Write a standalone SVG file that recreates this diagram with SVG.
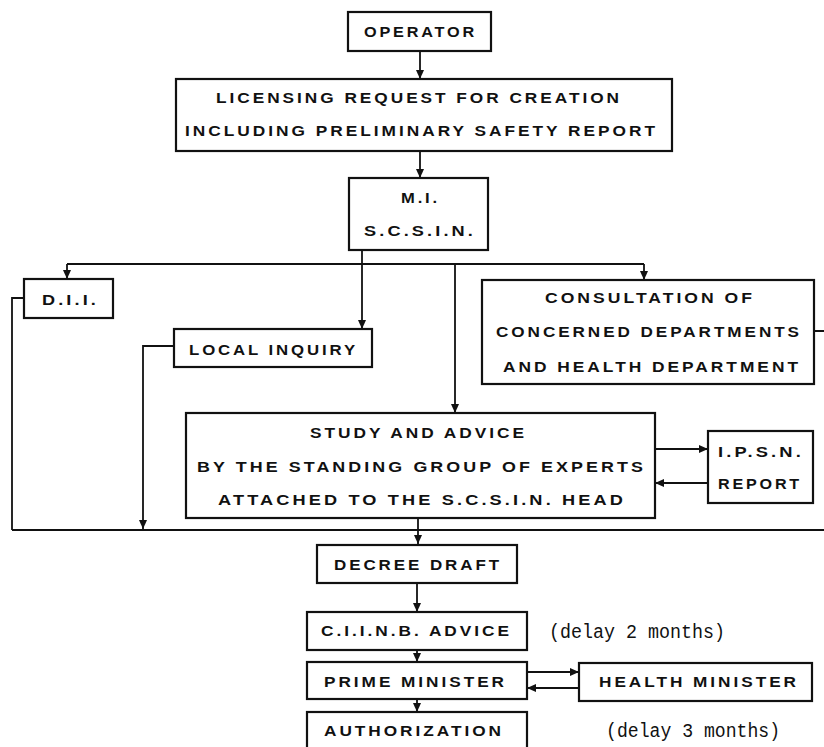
<svg xmlns="http://www.w3.org/2000/svg" width="824" height="747" viewBox="0 0 824 747">
<defs>
<marker id="ah" markerUnits="userSpaceOnUse" markerWidth="9" markerHeight="9" viewBox="0 0 9 9" refX="9" refY="4.5" orient="auto">
<path d="M0,0.5 L9,4.5 L0,8.5 Z" fill="#111"/>
</marker>
</defs>
<style>
.box{fill:#fff;stroke:#111;stroke-width:2.2}
.t{font-family:"Liberation Sans",Arial,sans-serif;font-weight:bold;font-size:14.5px;letter-spacing:2.5px;fill:#111;text-anchor:start}
.d{font-family:"Liberation Mono","DejaVu Sans Mono",monospace;font-size:20px;fill:#111}
.c{fill:none;stroke:#111;stroke-width:1.8}
.ca{fill:none;stroke:#111;stroke-width:1.8;marker-end:url(#ah)}
</style>
<rect width="824" height="747" fill="#fff"/>
<g id="connectors">
<line class="ca" x1="420" y1="51" x2="420" y2="79"/>
<line class="ca" x1="420" y1="151" x2="420" y2="178"/>
<line class="ca" x1="362" y1="250" x2="362" y2="329"/>
<path class="c" d="M67,264 H644"/>
<line class="ca" x1="67" y1="264" x2="67" y2="279"/>
<line class="ca" x1="644" y1="264" x2="644" y2="280"/>
<line class="ca" x1="455" y1="264" x2="455" y2="413"/>
<path class="c" d="M24,298 H12 V530"/>
<path class="ca" d="M174,346 H143 V529"/>
<path class="c" d="M814,331 H830 V530"/>
<path class="c" d="M12,530 H830"/>
<line class="ca" x1="418" y1="518" x2="418" y2="544"/>
<line class="ca" x1="655" y1="449" x2="708" y2="449"/>
<line class="ca" x1="708" y1="483" x2="655" y2="483"/>
<line class="ca" x1="417" y1="583" x2="417" y2="612"/>
<line class="ca" x1="417" y1="650" x2="417" y2="662"/>
<line class="ca" x1="417" y1="699" x2="417" y2="712"/>
<line class="ca" x1="527" y1="672" x2="579" y2="672"/>
<line class="ca" x1="579" y1="688" x2="527" y2="688"/>
</g>
<g id="operator">
<rect class="box" x="348" y="12" width="143" height="39"/>
<text class="t" x="364" y="36.5" textLength="113" lengthAdjust="spacingAndGlyphs">OPERATOR</text>
</g>
<g id="licensing">
<rect class="box" x="176" y="79" width="496" height="72"/>
<text class="t" x="216" y="102.5" textLength="406" lengthAdjust="spacingAndGlyphs">LICENSING REQUEST FOR CREATION</text>
<text class="t" x="185" y="135.5" textLength="473" lengthAdjust="spacingAndGlyphs">INCLUDING PRELIMINARY SAFETY REPORT</text>
</g>
<g id="mi">
<rect class="box" x="349" y="178" width="139" height="72"/>
<text class="t" x="401" y="202.5" textLength="39" lengthAdjust="spacingAndGlyphs">M.I.</text>
<text class="t" x="364" y="235.5" textLength="112" lengthAdjust="spacingAndGlyphs">S.C.S.I.N.</text>
</g>
<g id="dii">
<rect class="box" x="24" y="279" width="89" height="39"/>
<text class="t" x="42" y="304.5" textLength="57" lengthAdjust="spacingAndGlyphs">D.I.I.</text>
</g>
<g id="local-inquiry">
<rect class="box" x="174" y="329" width="198" height="38"/>
<text class="t" x="189" y="354.5" textLength="169" lengthAdjust="spacingAndGlyphs">LOCAL INQUIRY</text>
</g>
<g id="consultation">
<rect class="box" x="482" y="280" width="332" height="104"/>
<text class="t" x="545" y="302.5" textLength="210" lengthAdjust="spacingAndGlyphs">CONSULTATION OF</text>
<text class="t" x="496" y="336.5" textLength="306" lengthAdjust="spacingAndGlyphs">CONCERNED DEPARTMENTS</text>
<text class="t" x="503" y="371.5" textLength="298" lengthAdjust="spacingAndGlyphs">AND HEALTH DEPARTMENT</text>
</g>
<g id="study">
<rect class="box" x="186" y="413" width="469" height="105"/>
<text class="t" x="310" y="437.5" textLength="217" lengthAdjust="spacingAndGlyphs">STUDY AND ADVICE</text>
<text class="t" x="197" y="471.5" textLength="449" lengthAdjust="spacingAndGlyphs">BY THE STANDING GROUP OF EXPERTS</text>
<text class="t" x="218" y="504.5" textLength="408" lengthAdjust="spacingAndGlyphs">ATTACHED TO THE S.C.S.I.N. HEAD</text>
</g>
<g id="ipsn">
<rect class="box" x="708" y="431" width="105" height="72"/>
<text class="t" x="718" y="456.5" textLength="86" lengthAdjust="spacingAndGlyphs">I.P.S.N.</text>
<text class="t" x="718" y="488.5" textLength="84" lengthAdjust="spacingAndGlyphs">REPORT</text>
</g>
<g id="decree">
<rect class="box" x="317" y="545" width="200" height="38"/>
<text class="t" x="334" y="569.5" textLength="168" lengthAdjust="spacingAndGlyphs">DECREE DRAFT</text>
</g>
<g id="ciinb">
<rect class="box" x="307" y="612" width="220" height="38"/>
<text class="t" x="321" y="636" textLength="191" lengthAdjust="spacingAndGlyphs">C.I.I.N.B. ADVICE</text>
</g>
<text class="d" x="549" y="638" textLength="176" lengthAdjust="spacingAndGlyphs">(delay 2 months)</text>
<g id="prime-minister">
<rect class="box" x="307" y="662" width="220" height="37"/>
<text class="t" x="324" y="686.5" textLength="183" lengthAdjust="spacingAndGlyphs">PRIME MINISTER</text>
</g>
<g id="health-minister">
<rect class="box" x="579" y="663" width="233" height="38"/>
<text class="t" x="599" y="686.5" textLength="200" lengthAdjust="spacingAndGlyphs">HEALTH MINISTER</text>
</g>
<g id="authorization">
<rect class="box" x="307" y="712" width="220" height="50"/>
<text class="t" x="324" y="735.5" textLength="180" lengthAdjust="spacingAndGlyphs">AUTHORIZATION</text>
</g>
<text class="d" x="606" y="737" textLength="174" lengthAdjust="spacingAndGlyphs">(delay 3 months)</text>
</svg>
